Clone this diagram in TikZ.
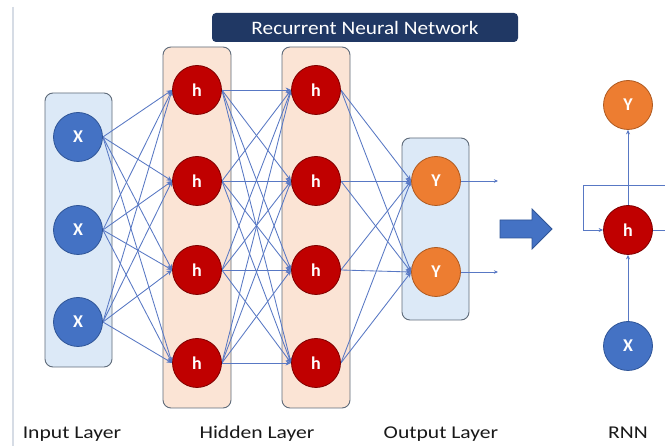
\documentclass[tikz,border=0pt]{standalone}
\usepackage{fontspec}
\setmainfont{Carlito}
\newfontfamily\labfont[FakeStretch=1.2]{Carlito}
\newfontfamily\titfont[FakeStretch=1.12]{Carlito}
\usetikzlibrary{arrows.meta}
\definecolor{nblue}{HTML}{4472C4}
\definecolor{nblueD}{HTML}{2F5597}
\definecolor{nred}{HTML}{C00000}
\definecolor{nredD}{HTML}{7F0000}
\definecolor{norange}{HTML}{ED7D31}
\definecolor{norangeD}{HTML}{AE5A21}
\definecolor{lblue}{HTML}{DCE9F7}
\definecolor{peach}{HTML}{FBE4D5}
\definecolor{boxline}{HTML}{5F6B7A}
\definecolor{conn}{HTML}{5878C4}
\definecolor{navy}{HTML}{203864}
\definecolor{sideline}{HTML}{D6DCE5}
\pgfdeclarelayer{boxlayer}
\pgfdeclarelayer{linklayer}
\pgfsetlayers{boxlayer,linklayer,main}
\tikzset{
  neuron/.style={circle,minimum size=49pt,inner sep=0pt,line width=0.8pt,text=white,font=\bfseries\fontsize{18}{20}\selectfont},
  xn/.style={neuron,fill=nblue,draw=nblueD},
  hn/.style={neuron,fill=nred,draw=nredD},
  yn/.style={neuron,fill=norange,draw=norangeD},
  layerbox/.style={rounded corners=8pt,draw=boxline,line width=0.9pt},
  link/.style={draw=conn,line width=0.85pt,-{Stealth[length=5.5pt,width=5pt]}},
  lab/.style={font=\labfont\fontsize{18}{20}\selectfont,anchor=base,text=black!90}
}
\begin{document}
\begin{tikzpicture}[x=1pt,y=-1pt]
\useasboundingbox (0,0) rectangle (665,446);
\begin{pgfonlayer}{boxlayer}
\fill[white] (0,0) rectangle (665,446);
\draw[sideline,line width=1.5pt] (13,7) -- (13,446);
\draw[layerbox,fill=lblue] (45,93) rectangle (112,367);
\draw[layerbox,fill=peach] (163,47) rectangle (231,408);
\draw[layerbox,fill=peach] (282,47) rectangle (350,408);
\draw[layerbox,fill=lblue] (402,138) rectangle (469,320);
\end{pgfonlayer}
% title
\node[fill=navy,rounded corners=4pt,minimum width=306pt,minimum height=29pt,inner sep=0pt,text=white,font=\titfont\fontsize{19}{20}\selectfont] (title) at (365,27.5) {Recurrent Neural Network};
% nodes
\node[xn] (x1) at (78,137) {X};
\node[xn] (x2) at (78,230) {X};
\node[xn] (x3) at (78,322) {X};
\foreach \i/\yy in {1/90,2/181,3/270,4/363}{
  \node[hn] (ha\i) at (197,\yy) {h};
  \node[hn] (hb\i) at (316,\yy) {h};
}
\node[yn] (y1) at (436,181) {Y};
\node[yn] (y2) at (436,272) {Y};
% connections
\begin{pgfonlayer}{linklayer}
\foreach \i in {1,2,3}{\foreach \j in {1,2,3,4}{\draw[link] (x\i.east) -- (ha\j.west);}}
\foreach \i in {1,2,3,4}{\foreach \j in {1,2,3,4}{\draw[link] (ha\i.east) -- (hb\j.west);}}
\foreach \i in {1,2,3,4}{\foreach \j in {1,2}{\draw[link] (hb\i.east) -- (y\j.west);}}
\end{pgfonlayer}
% outputs
\coordinate (o1) at (498,181);
\coordinate (o2) at (498,272);
\draw[link,-{Stealth[length=4pt,width=3.5pt]}] (y1.east) -- (o1);
\draw[link,-{Stealth[length=4pt,width=3.5pt]}] (y2.east) -- (o2);
% big arrow
\draw[fill=nblue,draw=nblueD,line width=0.8pt] (500,220) -- (532,220) -- (532,209) -- (552,229) -- (532,249) -- (532,238) -- (500,238) -- cycle;
% RNN
\node[yn] (ry) at (628,105) {Y};
\node[hn] (rh) at (628,230) {h};
\node[xn] (rx) at (628,346) {X};
\draw[link,-{Stealth[length=4.5pt,width=4pt]}] (rx) -- (rh);
\draw[link,-{Stealth[length=4.5pt,width=4pt]}] (rh) -- (ry);
\coordinate (lr) at (666,230);
\coordinate (lt) at (666,185);
\coordinate (ltl) at (583,185);
\coordinate (lbl) at (583,230);
\draw[draw=conn,line width=0.85pt] (rh.east) -- (lr);
\draw[link,-{Stealth[length=4.5pt,width=4pt]}] (lt) -- (ltl) -- (lbl) -- (rh.west);
% labels
\node[lab] (l1) at (72,439) {Input Layer};
\node[lab] (l2) at (257,439) {Hidden Layer};
\node[lab] (l3) at (441,439) {Output Layer};
\node[lab] (l4) at (628,439) {RNN};
\end{tikzpicture}
\end{document}
